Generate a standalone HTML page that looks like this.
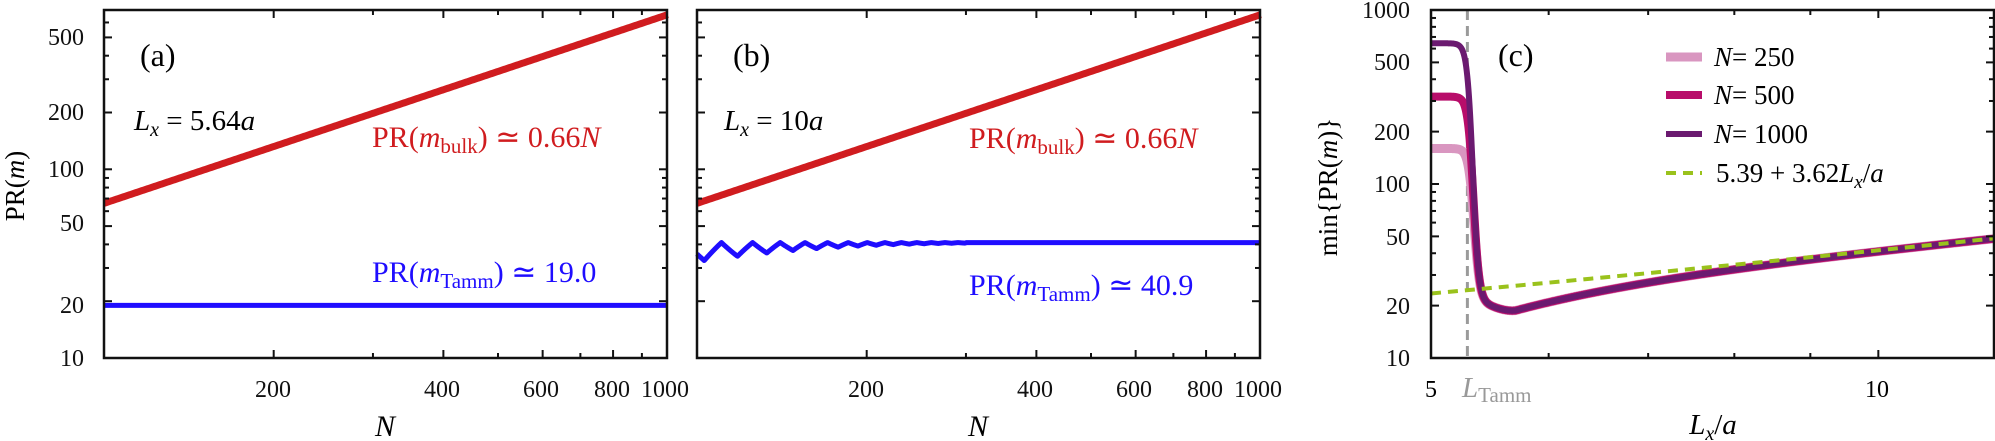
<!DOCTYPE html>
<html><head><meta charset="utf-8"><style>
html,body{margin:0;padding:0;background:#fff;}
svg{display:block;}
text{font-family:"Liberation Serif",serif;}
</style></head><body>
<svg id="s" width="1995" height="441" viewBox="0 0 1995 441" xmlns="http://www.w3.org/2000/svg">
<g id="curves"></g>
<g id="ticks" stroke="#111" stroke-width="2"></g>
<rect x="104" y="10" width="563" height="348" fill="none" stroke="#111" stroke-width="2.5"/>
<rect x="697" y="10" width="563" height="348" fill="none" stroke="#111" stroke-width="2.5"/>
<rect x="1431" y="10" width="563" height="348" fill="none" stroke="#111" stroke-width="2.5"/>

<g font-size="24" text-anchor="end" fill="#111">
<text x="84" y="366">10</text><text x="84" y="313">20</text><text x="84" y="231">50</text><text x="84" y="177">100</text><text x="84" y="120">200</text><text x="84" y="45">500</text>
</g>
<g font-size="24" text-anchor="middle" fill="#111">
<text x="273" y="397">200</text><text x="442" y="397">400</text><text x="541" y="397">600</text><text x="612" y="397">800</text><text x="665" y="397">1000</text>
<text x="1258" y="397" text-anchor="middle">1000</text>
<text x="866" y="397">200</text><text x="1035" y="397">400</text><text x="1134" y="397">600</text><text x="1205" y="397">800</text>
</g>
<text x="385" y="436" font-size="30" font-style="italic" text-anchor="middle">N</text>
<text x="978" y="436" font-size="30" font-style="italic" text-anchor="middle">N</text>
<text transform="translate(24,186) rotate(-90)" font-size="27" text-anchor="middle">PR(<tspan font-style="italic">m</tspan>)</text>
<text x="140" y="66" font-size="32">(a)</text>
<text x="733" y="66" font-size="32">(b)</text>
<text x="134" y="130" font-size="29"><tspan font-style="italic">L</tspan><tspan font-style="italic" font-size="20" dy="6">x</tspan><tspan dy="-6"> = 5.64</tspan><tspan font-style="italic">a</tspan></text>
<text x="724" y="130" font-size="29"><tspan font-style="italic">L</tspan><tspan font-style="italic" font-size="20" dy="6">x</tspan><tspan dy="-6"> = 10</tspan><tspan font-style="italic">a</tspan></text>
<text x="372" y="147" font-size="30" fill="#d01c1f">PR(<tspan font-style="italic">m</tspan><tspan font-size="21" dy="6">bulk</tspan><tspan dy="-6">) ≃ 0.66</tspan><tspan font-style="italic">N</tspan></text>
<text x="969" y="148" font-size="30" fill="#d01c1f">PR(<tspan font-style="italic">m</tspan><tspan font-size="21" dy="6">bulk</tspan><tspan dy="-6">) ≃ 0.66</tspan><tspan font-style="italic">N</tspan></text>
<text x="372" y="282" font-size="30" fill="#1f0dff">PR(<tspan font-style="italic">m</tspan><tspan font-size="21" dy="6">Tamm</tspan><tspan dy="-6">) ≃ 19.0</tspan></text>
<text x="969" y="295" font-size="30" fill="#1f0dff">PR(<tspan font-style="italic">m</tspan><tspan font-size="21" dy="6">Tamm</tspan><tspan dy="-6">) ≃ 40.9</tspan></text>

<g font-size="24" text-anchor="end" fill="#111">
<text x="1410" y="366">10</text><text x="1410" y="314">20</text><text x="1410" y="245">50</text><text x="1410" y="192">100</text><text x="1410" y="140">200</text><text x="1410" y="70">500</text><text x="1410" y="18">1000</text>
</g>
<text x="1431" y="397" font-size="24" text-anchor="middle">5</text>
<text x="1877" y="397" font-size="24" text-anchor="middle">10</text>
<text x="1462" y="397" font-size="29" fill="#999"><tspan font-style="italic">L</tspan><tspan font-size="21" dy="5">Tamm</tspan></text>
<text x="1713" y="434" font-size="29" text-anchor="middle"><tspan font-style="italic">L</tspan><tspan font-style="italic" font-size="20" dy="6">x</tspan><tspan dy="-6">/</tspan><tspan font-style="italic">a</tspan></text>
<text transform="translate(1337,187) rotate(-90)" font-size="27" text-anchor="middle">min{PR(<tspan font-style="italic">m</tspan>)}</text>
<text x="1498" y="66" font-size="32">(c)</text>
<g>
<line x1="1666" y1="57" x2="1702" y2="57" stroke="#d996c0" stroke-width="9"/>
<line x1="1666" y1="95" x2="1702" y2="95" stroke="#b80d6a" stroke-width="8"/>
<line x1="1666" y1="134" x2="1702" y2="134" stroke="#6b1a70" stroke-width="6"/>
<line x1="1666" y1="173" x2="1702" y2="173" stroke="#9ac21c" stroke-width="4" stroke-dasharray="10 7"/>
<g font-size="27"><text x="1714" y="66"><tspan font-style="italic">N</tspan>= 250</text>
<text x="1714" y="104"><tspan font-style="italic">N</tspan>= 500</text>
<text x="1714" y="143"><tspan font-style="italic">N</tspan>= 1000</text>
<text x="1716" y="182">5.39 + 3.62<tspan font-style="italic">L</tspan><tspan font-style="italic" font-size="19" dy="6">x</tspan><tspan dy="-6">/</tspan><tspan font-style="italic">a</tspan></text></g>
</g>
</svg>
<script>
(function(){
var NS="http://www.w3.org/2000/svg";
var cg=document.getElementById("curves"),tg=document.getElementById("ticks");
function el(p,tag,at){var e=document.createElementNS(NS,tag);for(var k in at)e.setAttribute(k,at[k]);p.appendChild(e);return e;}
var L10=Math.log10;
function XA(n,x0){return x0+563.7*L10(n/100);}
function YA(v){return 358-188.7*L10(v/10);}
function XC(l){return 1431+1486*L10(l/5);}
function YC(v){return 358-174*L10(v/10);}
function path(pts,col,w,dash){var d="M"+pts.map(function(p){return p[0].toFixed(2)+","+p[1].toFixed(2);}).join("L");var a={d:d,fill:"none",stroke:col,"stroke-width":w,"stroke-linejoin":"round"};if(dash)a["stroke-dasharray"]=dash;el(cg,"path",a);}
function tri(t){t=t-Math.floor(t);return 1-2*Math.abs(t-0.5)*2>0?1-4*Math.abs(t-0.5)+1:0;}
[104,697].forEach(function(x0,i){
 var r=[],b=[];
 for(var k=0;k<=400;k++){var n=100*Math.pow(10,k/400);r.push([XA(n,x0),YA(0.66*n)]);}
 if(i==0){b=[[XA(100,x0),YA(19)],[XA(1000,x0),YA(19)]];}
 else{for(var k=0;k<=3000;k++){var n=100*Math.pow(10,k/3000);var d=(n<300)?19*Math.exp(-(n-100)/55):0;
   var t=(n-103)/15;t=t-Math.floor(t);var w=1-2*Math.min(t,1-t)*2; // triangle: 1 at trough, -1 at peak
   b.push([XA(n,x0),YA(40.9)+d*(1+w)/2]);}}
 path(r,"#d01c1f",7);path(b,"#1f0dff",5);
 for(var n=200;n<=900;n+=100){var x=XA(n,x0);var len=(n%200==0)?8:5;el(tg,"line",{x1:x,y1:358,x2:x,y2:358-len});el(tg,"line",{x1:x,y1:10,x2:x,y2:10+len});}
 var ys=[];for(var v=10;v<100;v+=10)ys.push(v);for(var v=100;v<=600;v+=100)ys.push(v);
 ys.forEach(function(v){var y=YA(v);var len=([10,20,50,100,200,500].indexOf(v)>=0)?8:5;el(tg,"line",{x1:x0,y1:y,x2:x0+len,y2:y});el(tg,"line",{x1:x0+563,y1:y,x2:x0+563-len,y2:y});});
});
for(var l=6;l<=10;l++){var x=XC(l);var len=(l==10)?8:5;el(tg,"line",{x1:x,y1:358,x2:x,y2:358-len});el(tg,"line",{x1:x,y1:10,x2:x,y2:10+len});}
var ys=[];for(var v=10;v<100;v+=10)ys.push(v);for(var v=100;v<1000;v+=100)ys.push(v);
ys.forEach(function(v){var y=YC(v);var len=([10,20,50,100,200,500].indexOf(v)>=0)?8:5;el(tg,"line",{x1:1431,y1:y,x2:1431+len,y2:y});el(tg,"line",{x1:1994,y1:y,x2:1994-len,y2:y});});
el(cg,"line",{x1:XC(5.29),y1:10,x2:XC(5.29),y2:358,stroke:"#9a9a9a","stroke-width":3,"stroke-dasharray":"10 6"});
function g(l){var line=5.39+3.62*l;var h=l>5.7?Math.exp(-(l-5.7)/1.5):Math.exp(-Math.pow((l-5.7)/0.4,2));return line*(1-0.28*h);}
[[160,"#d996c0",9,5.345],[318,"#b80d6a",8,5.34],[644,"#6b1a70",6,5.335]].forEach(function(c){
 var pts=[];for(var k=0;k<=1500;k++){var l=5+7*k/1500;var s=1/(1+Math.exp((l-c[3])/0.024));var lv=s*L10(c[0])+(1-s)*L10(g(l));pts.push([XC(l),YC(Math.pow(10,lv))]);}
 path(pts,c[1],c[2]);
});
var gp=[];for(var k=0;k<=50;k++){var l=5+7*k/50;gp.push([XC(l),YC(5.39+3.62*l)]);}
path(gp,"#9ac21c",4,"10 7");
})();
</script>
</body></html>
